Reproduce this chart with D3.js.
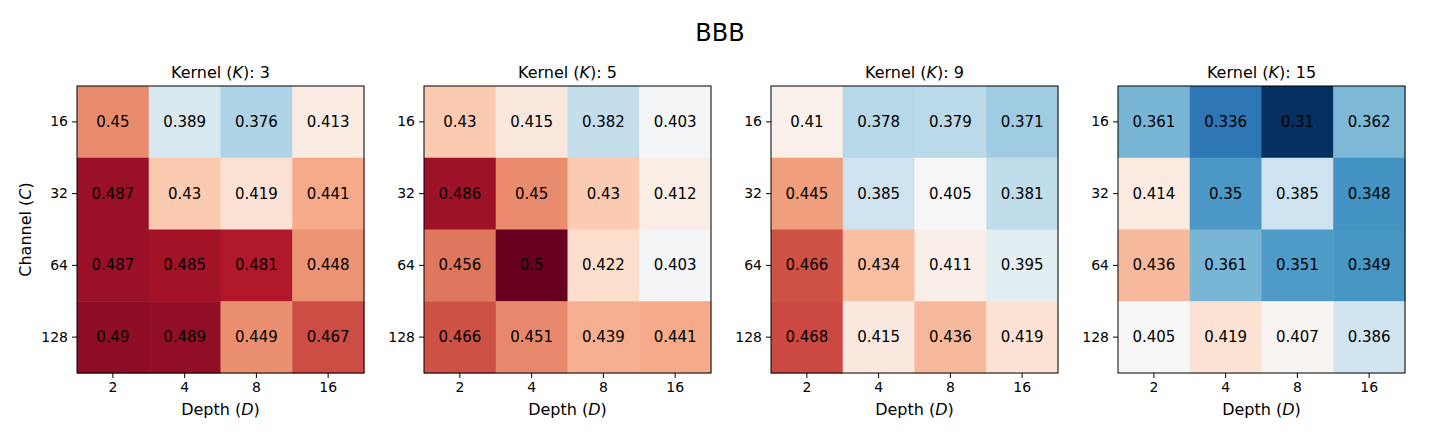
<!DOCTYPE html>
<html>
<head>
<meta charset="utf-8">
<script src="https://cdn.jsdelivr.net/npm/d3@7"></script>
<style>
  body { margin: 0; background: #fff; }
  text { font-family: "DejaVu Sans", sans-serif; }
</style>
</head>
<body>
<div id="chart"></div>
<script>
// data
var kernels = [3, 5, 9, 15];
var depths = ['2', '4', '8', '16'];
var channels = ['16', '32', '64', '128'];
// rows = channel, cols = depth
var k3 = [[0.45, 0.389, 0.376, 0.413], [0.487, 0.43, 0.419, 0.441], [0.487, 0.485, 0.481, 0.448], [0.49, 0.489, 0.449, 0.467]];
var k5 = [[0.43, 0.415, 0.382, 0.403], [0.486, 0.45, 0.43, 0.412], [0.456, 0.5, 0.422, 0.403], [0.466, 0.451, 0.439, 0.441]];
var k9 = [[0.41, 0.378, 0.379, 0.371], [0.445, 0.385, 0.405, 0.381], [0.466, 0.434, 0.411, 0.395], [0.468, 0.415, 0.436, 0.419]];
var k15 = [[0.361, 0.336, 0.31, 0.362], [0.414, 0.35, 0.385, 0.348], [0.436, 0.361, 0.351, 0.349], [0.405, 0.419, 0.407, 0.386]];
var grids = [k3, k5, k9, k15];

var W = 1440, H = 432;
var svg = d3.select('#chart').append('svg').attr('width', W).attr('height', H);

// matplotlib RdBu_r
var rdbu = ['#053061', '#2166ac', '#4393c3', '#92c5de', '#d1e5f0', '#f7f7f7', '#fddbc7', '#f4a582', '#d6604d', '#b2182b', '#67001f'];
var allVals = grids.flat(2);
var vmin = d3.min(allVals), vmax = d3.max(allVals);
var colorScale = d3.scaleLinear()
  .domain(rdbu.map((c, i) => vmin + (vmax - vmin) * i / (rdbu.length - 1)))
  .range(rdbu)
  .interpolate(d3.interpolateRgb);

svg.append('text').attr('x', 720).attr('y', 41).attr('text-anchor', 'middle')
  .style('font-size', '24px').text('BBB');

var size = 287;
var lefts = [77, 424, 771, 1118];
var topY = 86;

grids.forEach(function(grid, n) {
  var g = svg.append('g').attr('transform', `translate(${lefts[n]},${topY})`);
  var x = d3.scaleBand().domain(depths).range([0, size]);
  var y = d3.scaleBand().domain(channels).range([0, size]);

  var cells = [];
  grid.forEach((row, r) => row.forEach((v, c) => cells.push({ch: channels[r], d: depths[c], v: v})));

  g.selectAll('rect.cell').data(cells).enter()
    .append('rect').attr('class', 'cell')
    .attr('x', d => x(d.d))
    .attr('y', d => y(d.ch))
    .attr('width', x.bandwidth() + 0.5)
    .attr('height', y.bandwidth() + 0.5)
    .style('fill', d => colorScale(d.v));

  g.selectAll('text.val').data(cells).enter()
    .append('text').attr('class', 'val')
    .attr('x', d => x(d.d) + x.bandwidth() / 2)
    .attr('y', d => y(d.ch) + y.bandwidth() / 2)
    .attr('text-anchor', 'middle').attr('dominant-baseline', 'central')
    .style('font-size', '15px').style('fill', '#000')
    .text(d => d.v);

  g.append('rect').attr('width', size).attr('height', size)
    .attr('fill', 'none').attr('stroke', '#000').attr('stroke-width', 1);

  var xa = g.append('g').attr('transform', `translate(0,${size})`)
    .call(d3.axisBottom(x).tickSize(5).tickPadding(4));
  var ya = g.append('g').call(d3.axisLeft(y).tickSize(5).tickPadding(4));
  [xa, ya].forEach(a => {
    a.select('.domain').remove();
    a.selectAll('text').style('font-family', '"DejaVu Sans", sans-serif').style('font-size', '14px').attr('fill', '#000');
    a.selectAll('line').attr('stroke', '#000');
  });

  // subplot title
  var t = g.append('text').attr('x', size / 2).attr('y', -8).attr('text-anchor', 'middle')
    .style('font-size', '16px');
  t.append('tspan').text('Kernel (');
  t.append('tspan').style('font-style', 'italic').text('K');
  t.append('tspan').text('): ' + kernels[n]);

  // x label
  var xl = g.append('text').attr('x', size / 2).attr('y', size + 42).attr('text-anchor', 'middle')
    .style('font-size', '16px');
  xl.append('tspan').text('Depth (');
  xl.append('tspan').style('font-style', 'italic').text('D');
  xl.append('tspan').text(')');

  if (n === 0) {
    var yl = g.append('text').attr('transform', `translate(-46,${size / 2}) rotate(-90)`)
      .attr('text-anchor', 'middle').style('font-size', '16px');
    yl.append('tspan').text('Channel (');
    yl.append('tspan').style('font-style', 'italic').text('C');
    yl.append('tspan').text(')');
  }
});
</script>
</body>
</html>
